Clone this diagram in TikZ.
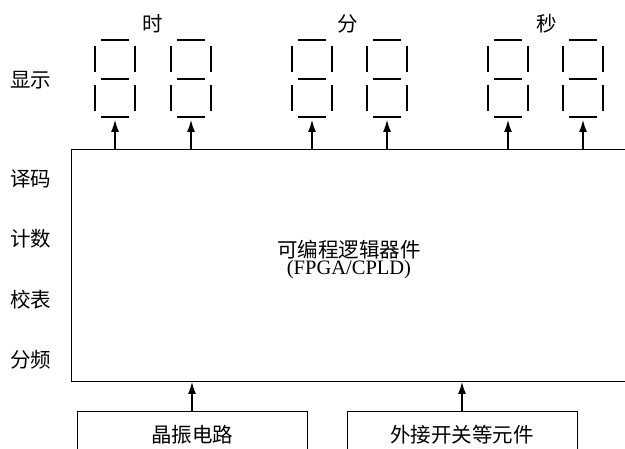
\documentclass[tikz,border=0pt]{standalone}
\usepackage{fontspec}
\setmainfont{Liberation Serif}
\newfontfamily\cjk{Noto Sans CJK SC}
\usetikzlibrary{arrows.meta}
\tikzset{
  seg/.style={line width=1.1pt},
  arr/.style={line width=1.1pt,-{Latex[length=12pt,width=8pt]}},
  cjklabel/.style={font=\cjk\fontsize{20.5}{22}\selectfont,inner sep=0pt},
  box/.style={draw,line width=1pt,inner sep=0pt},
}
\newcommand{\sevenseg}[2]{%
  \coordinate (#1) at (#2,117);
  \draw[seg] (#2-14,40) -- (#2+14,40);
  \draw[seg] (#2-14,79) -- (#2+14,79);
  \draw[seg] (#1) ++(-14,0) -- ++(28,0);
  \draw[seg] (#2-20,46) -- (#2-20,72);
  \draw[seg] (#2+20,46) -- (#2+20,72);
  \draw[seg] (#2-20,85) -- (#2-20,111);
  \draw[seg] (#2+20,85) -- (#2+20,111);
}
\begin{document}
\begin{tikzpicture}[x=1pt,y=-1pt]
\useasboundingbox (0,0) rectangle (625,449);
\clip (0,0) rectangle (625,449);
\fill[white] (0,0) rectangle (625,449);

% main programmable device box
\node[box,minimum width=575pt,minimum height=232pt,anchor=north west] (fpga) at (71,149) {};
\node[cjklabel,text height=8pt,text depth=1pt] (fpgatext1) at (349,254) {可编程逻辑器件};
\node[inner sep=0pt,font=\fontsize{20.5}{22}\selectfont,text height=7pt,text depth=1pt] (fpgatext2) at (349,272) {(FPGA/CPLD)};

% left-side labels
\node[cjklabel] (lxs) at (31,80) {显示};
\node[cjklabel] (lym) at (31,179) {译码};
\node[cjklabel] (ljs) at (31,239) {计数};
\node[cjklabel] (ljb) at (31,300) {校表};
\node[cjklabel] (lfp) at (31,360) {分频};

% group titles
\node[cjklabel] (tshi) at (153,24) {时};
\node[cjklabel] (tfen) at (348,24) {分};
\node[cjklabel] (tmiao) at (547,24) {秒};

% seven-segment digits
\sevenseg{d1}{115}
\sevenseg{d2}{191}
\sevenseg{d3}{312}
\sevenseg{d4}{387}
\sevenseg{d5}{508}
\sevenseg{d6}{583}

\foreach \d in {d1,d2,d3,d4,d5,d6}
  \draw[arr,shorten >=3pt] (\d |- fpga.north) -- (\d);

% bottom boxes
\node[box,cjklabel,minimum width=230pt,minimum height=46pt] (osc) at (192,435) {晶振电路};
\node[box,cjklabel,minimum width=230pt,minimum height=46pt] (sw) at (462,435) {外接开关等元件};

\draw[arr] (osc.north) -- (osc.north |- fpga.south);
\draw[arr] (sw.north) -- (sw.north |- fpga.south);
\end{tikzpicture}
\end{document}
